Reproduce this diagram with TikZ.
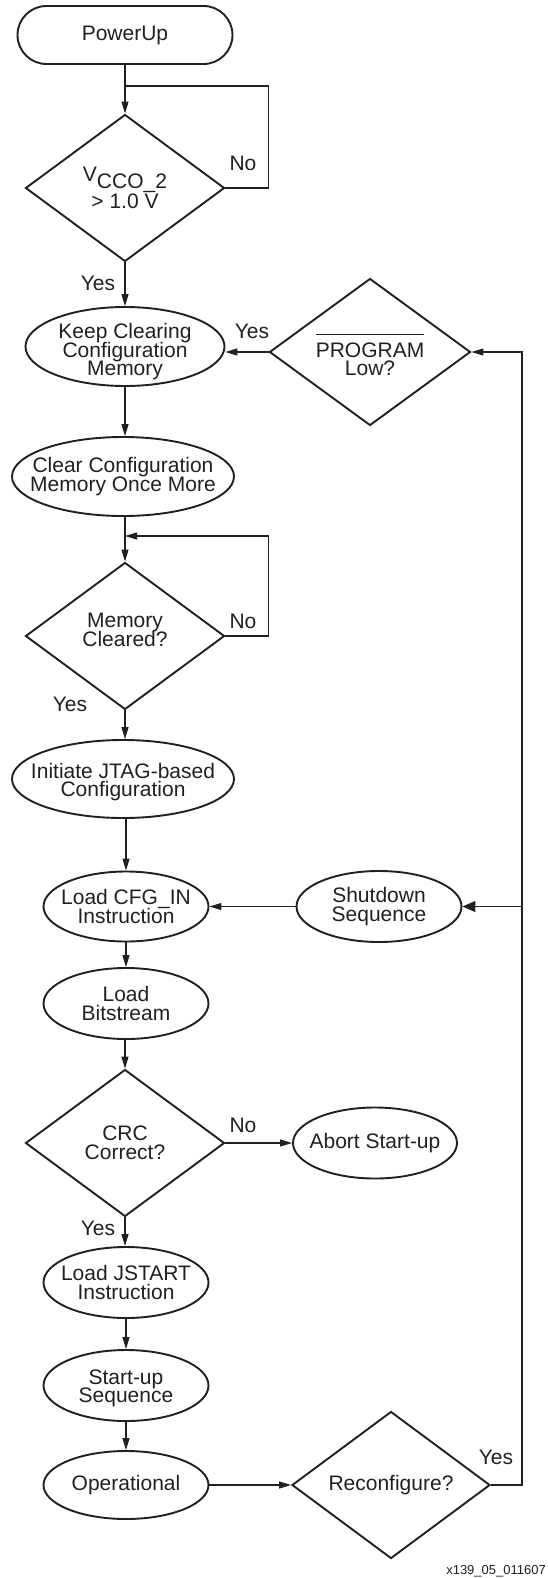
\documentclass[tikz,border=0pt]{standalone}
\usepackage{fontspec}
\setmainfont{Liberation Sans}
\usetikzlibrary{shapes.geometric,shapes.misc,arrows.meta}
\definecolor{ink}{RGB}{35,31,32}
\newsavebox\ovbox
\newcommand\ovbar[1]{\sbox\ovbox{#1}\smash{\rlap{\rule[22.5bp]{\wd\ovbox}{0.9bp}}}\usebox\ovbox}
\newcommand\chartfont{\fontsize{21bp}{18.5bp}\selectfont\lineskiplimit=-30bp\relax}
\tikzset{
  every node/.style={font=\chartfont, text=ink},
  shapebase/.style={draw=ink, line width=1.9bp, inner sep=0pt, align=center},
  term/.style={shapebase, rounded rectangle, minimum width=215bp, minimum height=58bp},
  proc/.style={shapebase, ellipse},
  lblin/.style={inner sep=0pt, align=center, draw=none},
  txt/.style={label={[lblin]center:{#1}}},
  dec/.style={shapebase, diamond, minimum width=199bp, minimum height=147bp},
  conn/.style={draw=ink, line width=1.1bp},
  arr/.style={conn, -{Triangle[length=12bp,width=7bp]}},
  bigarr/.style={conn, -{Triangle[length=13bp,width=11bp]}},
  lbl/.style={inner sep=0pt},
}
\begin{document}
\begin{tikzpicture}[x=1bp,y=-1bp]
\useasboundingbox (0,0) rectangle (548,1578);
% main column
\node[term] (pu) at (125,35) {PowerUp};
\node[dec, txt={V\raisebox{-7.3bp}{CCO\_2}\\[8.8bp]> 1.0 V}] (d1) at (125,188) {};
\node[proc, minimum width=199bp, minimum height=79bp, label={[lblin,yshift=-5.5bp]center:{Keep Clearing\\Configuration\\Memory}}] (kc) at (125,346.5) {};
\node[dec, minimum width=201bp, label={[lblin,yshift=-7.5bp]center:{\ovbar{PROGRAM}\\Low?}}] (prog) at (370,352) {};
\node[proc, minimum width=222bp, minimum height=79bp, txt={Clear Configuration\\Memory Once More}] (co) at (123,476.5) {};
\node[dec, label={[lblin,yshift=6bp]center:{Memory\\Cleared?}}] (d2) at (125,636) {};
\node[proc, minimum width=222bp, minimum height=78bp, label={[lblin,yshift=-3bp]center:{Initiate JTAG-based\\Configuration}}] (ij) at (123,779) {};
\node[proc, minimum width=165bp, minimum height=70bp, txt={Load CFG\_IN\\Instruction}] (cfg) at (126,906.5) {};
\node[proc, minimum width=165bp, minimum height=71bp, txt={Shutdown\\Sequence}] (sd) at (379,906.5) {};
\node[proc, minimum width=165bp, minimum height=71bp, txt={Load\\Bitstream}] (lb) at (126,1003.5) {};
\node[dec, txt={CRC\\Correct?}] (crc) at (125,1143) {};
\node[proc, minimum width=164bp, minimum height=71bp, txt={Abort Start-up}] (ab) at (375,1143) {};
\node[proc, minimum width=165bp, minimum height=71bp, txt={Load JSTART\\Instruction}] (js) at (126,1282.5) {};
\node[proc, minimum width=165bp, minimum height=71bp, label={[lblin,yshift=-3bp]center:{Start-up\\Sequence}}] (su) at (126,1385.5) {};
\node[proc, minimum width=165bp, minimum height=68bp, txt={Operational}] (op) at (126,1485) {};
\node[dec, minimum width=198bp, txt={Reconfigure?}] (rc) at (391,1485) {};
% helper coordinates
\coordinate (j1) at (125,86);
\coordinate (l1) at (268.5,86);
\coordinate (j2) at (125,536);
\coordinate (l2) at (268.5,536);
\coordinate (rx) at (522,0);
% connectors
\draw[arr] (pu.south) -- (d1.north);
\draw[conn] (d1.east) -| (l1) -- (j1);
\draw[arr] (d1.south) -- (kc.north);
\draw[arr] (prog.west) -- (kc.east |- prog.west);
\draw[arr] (kc.south) -- (co.north -| kc.south);
\draw[arr] (co.south -| d2.north) -- (d2.north);
\draw[arr] (d2.east) -| (l2) -- (j2);
\draw[arr] (d2.south) -- (ij.north -| d2.south);
\draw[arr] (ij.south -| cfg.north) -- (cfg.north);
\draw[arr] (sd.west) -- (cfg.east);
\draw[arr] (cfg.south) -- (lb.north);
\draw[arr] (lb.south -| crc.north) -- (crc.north);
\draw[arr] (crc.east) -- (ab.west);
\draw[arr] (crc.south) -- (js.north -| crc.south);
\draw[arr] (js.south) -- (su.north);
\draw[arr] (su.south) -- (op.north);
\draw[arr] (op.east) -- (rc.west);
\draw[arr] (rc.east) -| (rx |- prog.east) -- (prog.east);
\draw[bigarr] (rx |- sd.east) -- (sd.east);
% labels
\node[lbl] at (243,163) {No};
\node[lbl] at (98,283) {Yes};
\node[lbl] at (252,331) {Yes};
\node[lbl] at (243,621) {No};
\node[lbl] at (70,704) {Yes};
\node[lbl] at (243,1125) {No};
\node[lbl] at (98,1228) {Yes};
\node[lbl] at (496,1457) {Yes};
\node[lbl, anchor=east, font=\fontsize{13bp}{15bp}\selectfont] (fn) at (546,1571) {x139\_05\_011607};
\end{tikzpicture}
\end{document}
